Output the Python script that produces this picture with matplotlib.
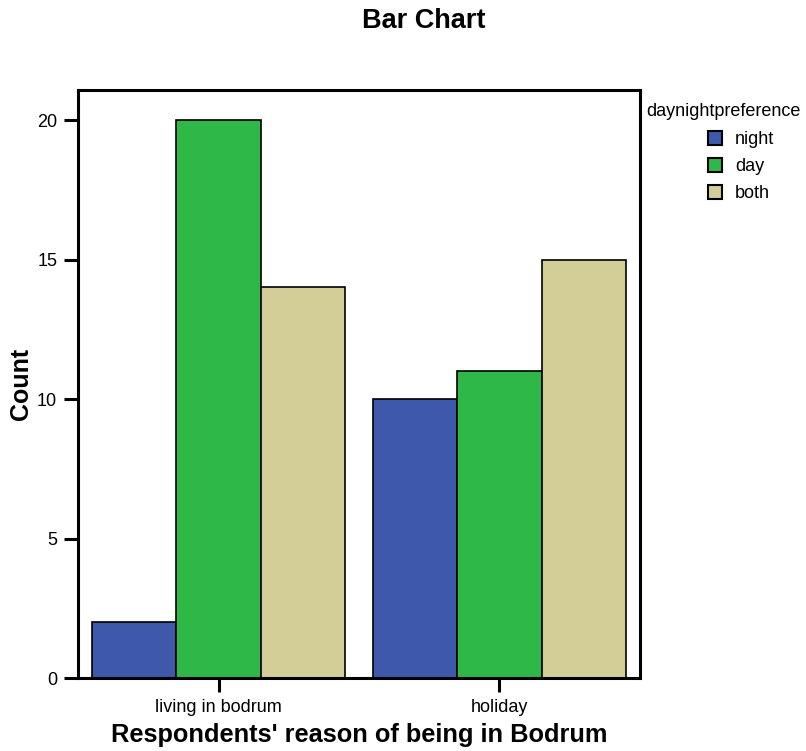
import numpy as np
import matplotlib
matplotlib.use('Agg')
import matplotlib.pyplot as plt
from matplotlib.patches import Patch

plt.rcParams['font.family'] = ['Liberation Sans', 'DejaVu Sans']

# 数据
categories = ['living in bodrum', 'holiday']
series_names = ['night', 'day', 'both']
night = [2, 10]
day = [20, 11]
both = [14, 15]
colors = ['#3E58AC', '#2EB848', '#D3CE97']

fig = plt.figure(figsize=(8.06, 7.51), dpi=100)
ax = fig.add_axes([0.0968, 0.0972, 0.6972, 0.783])

x = np.arange(len(categories))
width = 0.3
for i, (vals, name) in enumerate(zip([night, day, both], series_names)):
    ax.bar(x + (i - 1) * width, vals, width, color=colors[i],
           edgecolor='black', linewidth=1.2, label=name)

ax.set_xlim(-0.5, 1.5)
ax.set_ylim(0, 21.08)
ax.set_yticks([0, 5, 10, 15, 20])
ax.set_xticks(x)
ax.set_xticklabels(categories)
ax.tick_params(axis='both', direction='out', length=10, width=2.2,
               labelsize=13, pad=5)
for s in ax.spines.values():
    s.set_linewidth(2.2)

ax.set_ylabel('Count', fontsize=18, fontweight='bold')
ax.yaxis.set_label_coords((33 - 78) / 562, 0.5)
ax.set_xlabel("Respondents' reason of being in Bodrum", fontsize=18.3,
              fontweight='bold', labelpad=5)
fig.text(0.526, 0.972, 'Bar Chart', ha='center', va='center',
         fontsize=19.5, fontweight='bold')

# 图例
fig.text(646 / 806, 1 - 112 / 751, 'daynightpreference', ha='left',
         va='center', fontsize=13)
handles = [Patch(facecolor=c, edgecolor='black', linewidth=1.5) for c in colors]
fig.legend(handles, series_names, loc='upper left',
           bbox_to_anchor=(708 / 806, 1 - 131 / 751),
           frameon=False, fontsize=13, borderpad=0, borderaxespad=0,
           handlelength=0.78, handleheight=0.78, handletextpad=0.72,
           labelspacing=0.55)

fig.savefig('out.png', dpi=100)
